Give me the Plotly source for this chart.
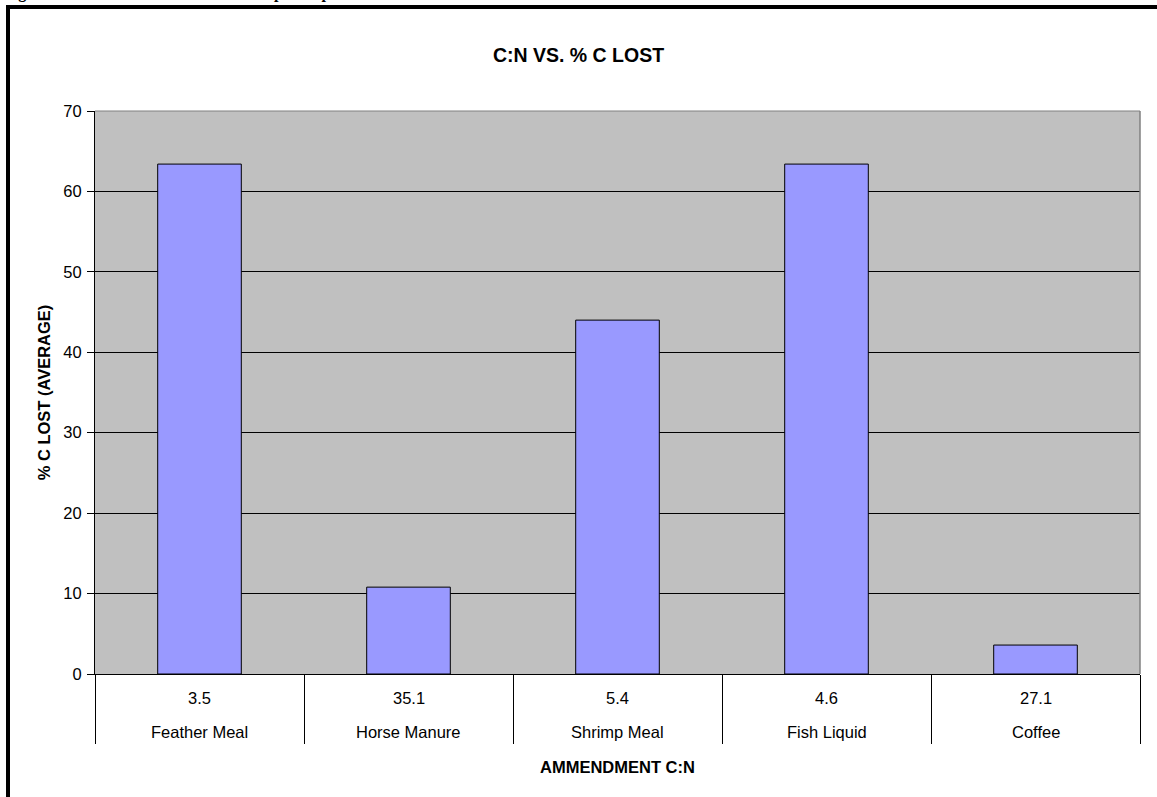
import plotly.graph_objects as go

amendments = ["Feather Meal", "Horse Manure", "Shrimp Meal", "Fish Liquid", "Coffee"]
cn_ratio = ["3.5", "35.1", "5.4", "4.6", "27.1"]
pct_c_lost = [63.4, 10.8, 44.0, 63.4, 3.6]

W, H = 1157, 797
L, R, T, B = 95, 17, 111, 123
pw, ph = W - L - R, H - T - B

def px2x(px):
    return (px - L) / pw

def py2y(py):
    return (H - B - py) / ph

font_family = "Liberation Sans, Arial, sans-serif"
TICK = 16.5

fig = go.Figure()
fig.add_trace(go.Bar(
    x=amendments,
    y=pct_c_lost,
    marker=dict(color="#9999FF", line=dict(color="black", width=1)),
    width=0.4,
))

annotations = []
for name, cn in zip(amendments, cn_ratio):
    annotations.append(dict(text=cn, x=name, xref="x", yref="paper", y=py2y(698),
                            xanchor="center", yanchor="middle", showarrow=False,
                            font=dict(size=TICK)))
    annotations.append(dict(text=name, x=name, xref="x", yref="paper", y=py2y(732),
                            xanchor="center", yanchor="middle", showarrow=False,
                            font=dict(size=TICK)))
annotations.append(dict(text="<b>AMMENDMENT C:N</b>", x=0.5, xref="paper", yref="paper",
                        y=py2y(767), xanchor="center", yanchor="middle", showarrow=False,
                        font=dict(size=16.5)))
annotations.append(dict(
    text="<b>Figure 4.  C:N ratio vs. % C lost in compost experiments for various amendments</b>",
    xref="paper", yref="paper", x=px2x(2), y=py2y(-7),
    xanchor="left", yanchor="middle", showarrow=False,
    font=dict(family="Liberation Serif, Times New Roman, serif", size=16)))

fig.update_layout(
    width=W, height=H,
    margin=dict(l=L, r=R, t=T, b=B),
    paper_bgcolor="white",
    plot_bgcolor="#C0C0C0",
    showlegend=False,
    font=dict(family=font_family, color="black", size=TICK),
    title=dict(text="<b>C:N VS. % C LOST</b>", x=0.5, xanchor="center",
               y=1 - 55 / H, yanchor="middle", font=dict(size=19.5, family=font_family)),
    xaxis=dict(
        type="category",
        showline=True, linecolor="black", linewidth=1,
        showticklabels=False,
        ticks="outside", tickson="boundaries", ticklen=69, tickcolor="black", tickwidth=1,
        showgrid=False,
    ),
    yaxis=dict(
        range=[0, 70], dtick=10,
        showgrid=True, gridcolor="black", gridwidth=1,
        showline=True, linecolor="black", linewidth=1,
        ticks="outside", ticklen=7, tickcolor="black",
        tickfont=dict(size=TICK),
        ticklabelstandoff=2,
        title=dict(text="<b>% C LOST (AVERAGE)</b>", font=dict(size=16.5), standoff=8),
        zeroline=False,
    ),
    shapes=[
        dict(type="line", xref="paper", yref="paper", x0=0, x1=1, y0=1, y1=1,
             line=dict(color="#808080", width=1)),
        dict(type="line", xref="paper", yref="paper", x0=1, x1=1, y0=0, y1=1,
             line=dict(color="#808080", width=1.5)),
        dict(type="line", xref="paper", yref="paper", x0=px2x(6), x1=px2x(1160),
             y0=py2y(7), y1=py2y(7), line=dict(color="black", width=4)),
        dict(type="line", xref="paper", yref="paper", x0=px2x(8), x1=px2x(8),
             y0=py2y(5), y1=py2y(800), line=dict(color="black", width=4)),
    ],
    annotations=annotations,
)

fig.write_html("out.html")
